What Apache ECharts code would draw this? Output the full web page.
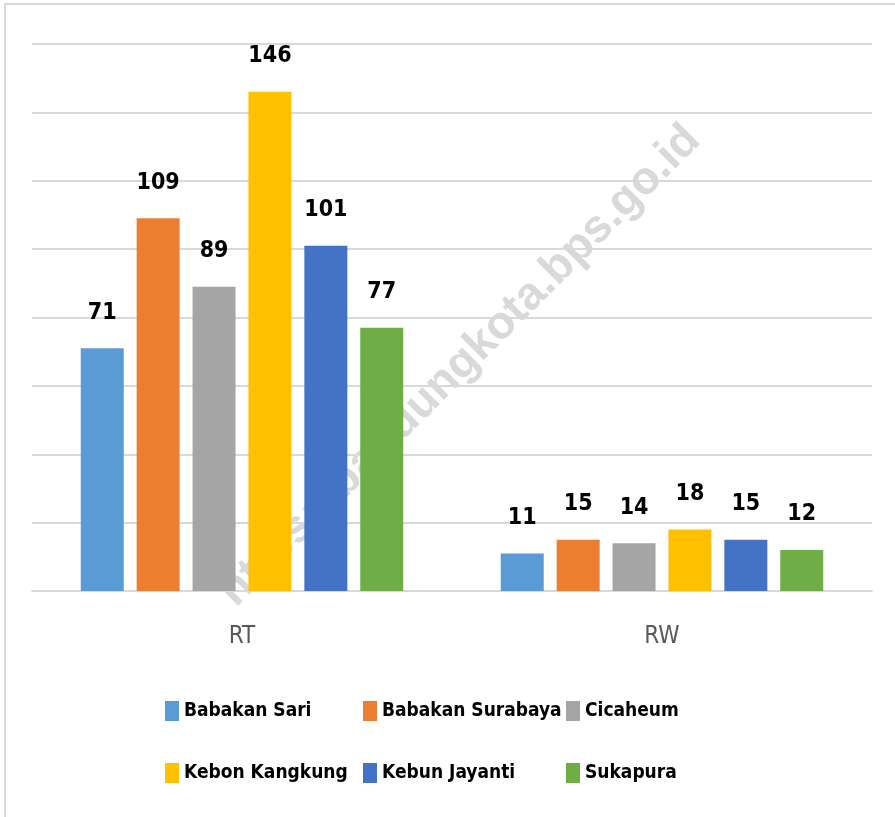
<!DOCTYPE html>
<html>
<head>
<meta charset="utf-8">
<script src="https://cdn.jsdelivr.net/npm/echarts@6/dist/echarts.min.js"></script>
<style>
  html, body { margin: 0; padding: 0; background: #fff; }
  #chart { width: 895px; height: 817px; }
</style>
</head>
<body>
<div id="chart"></div>
<script>
// data
const categories = ['RT', 'RW'];
const seriesNames = ['Babakan Sari', 'Babakan Surabaya', 'Cicaheum', 'Kebon Kangkung', 'Kebun Jayanti', 'Sukapura'];
const babakanSari = [71, 11];
const babakanSurabaya = [109, 15];
const cicaheum = [89, 14];
const kebonKangkung = [146, 18];
const kebunJayanti = [101, 15];
const sukapura = [77, 12];
const colors = ['#5B9BD5', '#ED7D31', '#A5A5A5', '#FFC000', '#4472C4', '#70AD47'];

const narrow = '"Liberation Sans Narrow", "Arial Narrow", "DejaVu Sans Condensed", sans-serif';
const allValues = [babakanSari, babakanSurabaya, cicaheum, kebonKangkung, kebunJayanti, sukapura];

let series = seriesNames.map((name, i) => {
  return {
    name: name,
    type: 'bar',
    barWidth: 43,
    barGap: '30%',
    data: allValues[i],
    itemStyle: { color: colors[i] },
    label: {
      show: true,
      position: 'top',
      distance: 24,
      color: '#000',
      fontFamily: narrow,
      fontWeight: 'bold',
      fontSize: 23
    },
    z: 3
  };
});

// legend: 3 columns x 2 rows, one legend per item so the columns line up
let legendCols = [165, 363, 566];
let legendRows = [701, 763];
let legends = seriesNames.map((name, i) => {
  return {
    data: [name],
    left: legendCols[i % 3],
    top: legendRows[Math.floor(i / 3)],
    padding: 0,
    itemWidth: 14,
    itemHeight: 20,
    icon: 'rect',
    textStyle: {
      fontFamily: narrow,
      fontWeight: 'bold',
      fontSize: 19,
      color: '#000'
    }
  };
});

let option = {
  animation: false,
  backgroundColor: '#fff',
  color: colors,
  graphic: [
    {
      type: 'rect',
      shape: { x: 5, y: 4, width: 1000, height: 1000 },
      style: { fill: 'none', stroke: '#d9d9d9', lineWidth: 2 },
      z: -10
    },
    {
      type: 'text',
      x: 460,
      y: 366,
      rotation: Math.PI / 4,
      style: {
        text: 'https://bandungkota.bps.go.id',
        font: 'bold 46px "Liberation Sans", Arial, sans-serif',
        fill: '#d9d9d9',
        textAlign: 'center',
        textVerticalAlign: 'middle'
      },
      z: -5
    }
  ],
  grid: { left: 32, right: 23, top: 44, bottom: 226 },
  legend: legends,
  xAxis: {
    type: 'category',
    data: categories,
    axisLine: { lineStyle: { color: '#d9d9d9', width: 2 } },
    axisTick: { show: false },
    axisLabel: {
      margin: 34,
      color: '#595959',
      fontFamily: narrow,
      fontSize: 24
    }
  },
  yAxis: {
    type: 'value',
    min: 0,
    max: 160,
    interval: 20,
    axisLabel: { show: false },
    axisLine: { show: false },
    axisTick: { show: false },
    splitLine: { lineStyle: { color: '#d9d9d9', width: 2 } }
  },
  series: series
};

let myChart = echarts.init(document.getElementById('chart'));
myChart.setOption(option);
</script>
</body>
</html>
